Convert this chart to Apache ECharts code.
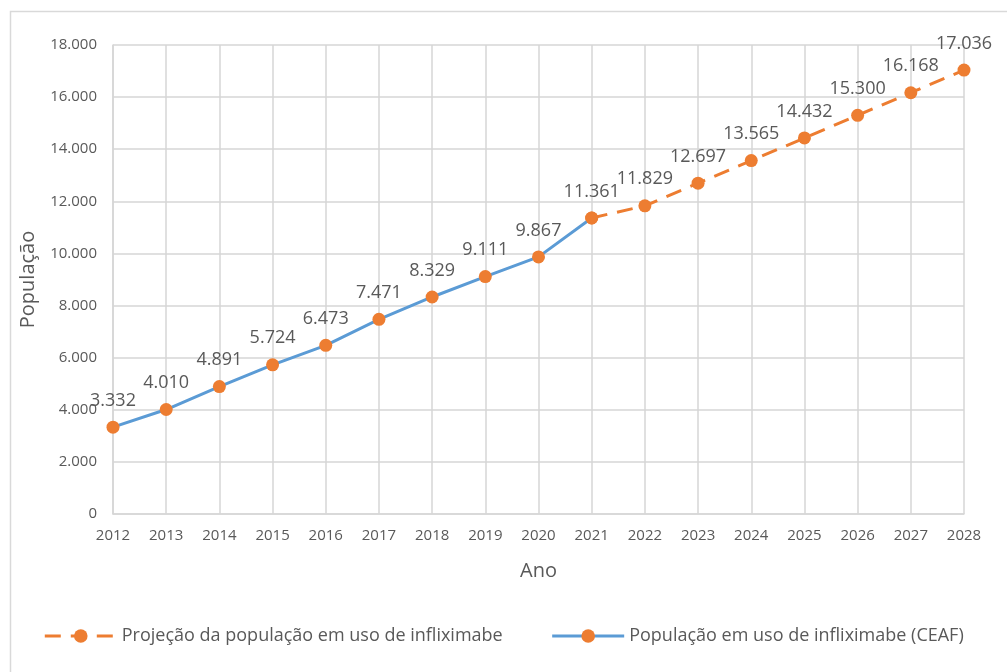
<!DOCTYPE html>
<html>
<head>
<meta charset="utf-8">
<script src="https://cdn.jsdelivr.net/npm/echarts@6/dist/echarts.min.js"></script>
<style>
    html, body { margin: 0; padding: 0; background: #fff; }
    #chart { width: 1007px; height: 672px; }
</style>
</head>
<body>
<div id="chart"></div>
<script>
// categorias (anos)
var anos = ['2012', '2013', '2014', '2015', '2016', '2017', '2018', '2019', '2020',
    '2021', '2022', '2023', '2024', '2025', '2026', '2027', '2028'];
// população em uso de infliximabe (CEAF), 2012-2021
var ceaf = [3332, 4010, 4891, 5724, 6473, 7471, 8329, 9111, 9867, 11361,
    null, null, null, null, null, null, null];
// projeção, a partir de 2021
var projecao = [null, null, null, null, null, null, null, null, null, 11361,
    11829, 12697, 13565, 14432, 15300, 16168, 17036];

var laranja = '#ED7D31';
var azul = '#5B9BD5';
var cinza = '#595959';
var grade = '#d6d6d6';
var fonte = 'Open Sans';

/**
 * formata número com ponto de milhar
 */
function fmt(v) {
    return String(v).replace(/\B(?=(\d{3})+(?!\d))/g, '.');
}

var myChart = echarts.init(document.getElementById('chart'));
var option = {
    animation: false,
    backgroundColor: '#fff',
    textStyle: { fontFamily: fonte },
    graphic: [{
        type: 'rect',
        shape: { x: 10.5, y: 11.5, width: 1000, height: 670 },
        style: { fill: 'none', stroke: '#d9d9d9', lineWidth: 1.5 }
    }],
    grid: {
        left: 113,
        right: 43,
        top: 45,
        bottom: 158
    },
    legend: {
        bottom: 22,
        left: 'center',
        itemGap: 48,
        itemWidth: 72,
        itemHeight: 17,
        lineStyle: { width: 3 },
        textStyle: { color: cinza, fontSize: 18, fontFamily: fonte },
        data: [
            'Projeção da população em uso de infliximabe',
            'População em uso de infliximabe (CEAF)'
        ]
    },
    xAxis: {
        type: 'category',
        data: anos,
        boundaryGap: false,
        name: 'Ano',
        nameLocation: 'middle',
        nameGap: 47,
        nameTextStyle: { color: cinza, fontSize: 20 },
        axisLine: { lineStyle: { color: grade, width: 1.5 } },
        axisTick: { show: false },
        axisLabel: { color: cinza, fontSize: 15, margin: 14 },
        splitLine: { show: true, lineStyle: { color: grade, width: 1.5 } }
    },
    yAxis: {
        type: 'value',
        min: 0,
        max: 18000,
        interval: 2000,
        name: 'População',
        nameLocation: 'middle',
        nameGap: 75,
        nameTextStyle: { color: cinza, fontSize: 20 },
        axisLine: { show: true, lineStyle: { color: grade, width: 1.5 } },
        axisTick: { show: false },
        axisLabel: {
            color: cinza,
            fontSize: 15,
            margin: 16,
            formatter: function (v) { return fmt(v); }
        },
        splitLine: { lineStyle: { color: grade, width: 1.5 } }
    },
    series: [
        {
            name: 'Projeção da população em uso de infliximabe',
            type: 'line',
            data: projecao,
            symbol: 'circle',
            symbolSize: 13,
            connectNulls: false,
            itemStyle: { color: laranja },
            lineStyle: { color: laranja, width: 3, type: [16, 10] },
            label: {
                show: true,
                position: 'top',
                distance: 11,
                color: cinza,
                fontSize: 18,
                formatter: function (p) {
                    return p.dataIndex === 9 ? '' : fmt(p.value);
                }
            },
            z: 2
        },
        {
            name: 'População em uso de infliximabe (CEAF)',
            type: 'line',
            data: ceaf,
            symbol: 'circle',
            symbolSize: 13,
            itemStyle: { color: laranja },
            lineStyle: { color: azul, width: 3 },
            label: {
                show: true,
                position: 'top',
                distance: 11,
                color: cinza,
                fontSize: 18,
                formatter: function (p) { return fmt(p.value); }
            },
            z: 3
        }
    ]
};
myChart.setOption(option);
</script>
</body>
</html>
